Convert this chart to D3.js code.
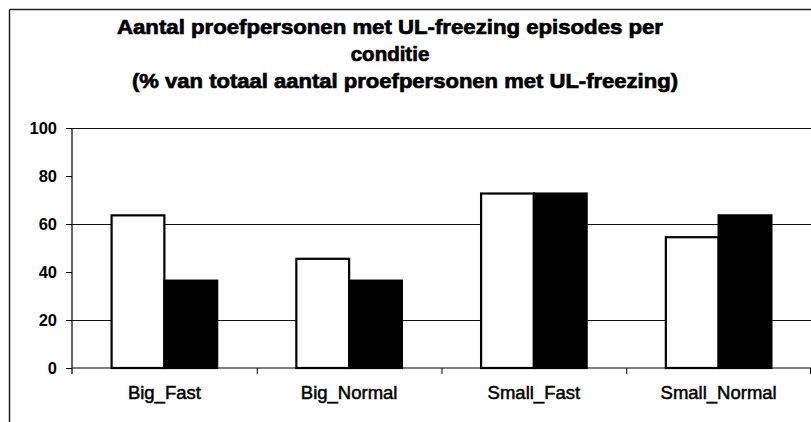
<!DOCTYPE html>
<html>
<head>
<meta charset="utf-8">
<script src="https://cdn.jsdelivr.net/npm/d3@7"></script>
<style>
  html, body { margin: 0; padding: 0; background: #fff; }
  svg { display: block; font-family: "Liberation Sans", Arial, sans-serif; }
</style>
</head>
<body>
<svg id="chart" width="811" height="422"></svg>
<script>
// Conditions on the x axis
const categories = ["Big_Fast", "Big_Normal", "Small_Fast", "Small_Normal"];
// Two series per condition: white bars and black bars (% of subjects)
const seriesNames = ["wit", "zwart"];
const whiteValues = [63.6, 45.5, 72.7, 54.5];
const blackValues = [36.4, 36.4, 72.7, 63.6];
const seriesColors = ["#ffffff", "#000000"];
// Y axis ticks and the horizontal grid lines that are drawn
const yTicks = [0, 20, 40, 60, 80, 100];
const gridValues = [20, 60, 100];
const titleLines = [
  "Aantal proefpersonen met UL-freezing episodes per",
  "conditie",
  "(% van totaal aantal proefpersonen met UL-freezing)"
];

const svg = d3.select("#chart");
const W = 811, H = 422;
const plot = { left: 72, right: 811, top: 128, bottom: 368 };

svg.append("rect").attr("width", W).attr("height", H).attr("fill", "#fff");

// Outer chart frame (top and left edges)
svg.append("line").attr("x1", 9.5).attr("x2", W).attr("y1", 9.5).attr("y2", 9.5)
  .attr("stroke", "#222").attr("stroke-width", 1.5);
svg.append("line").attr("x1", 9.5).attr("x2", 9.5).attr("y1", 9.5).attr("y2", H)
  .attr("stroke", "#222").attr("stroke-width", 1.5);

// Title
const titleSpec = [
  { x: 390, y: 34, len: 546 },
  { x: 390, y: 61, len: null },
  { x: 405, y: 88, len: 546 }
];
titleLines.forEach((t, i) => {
  const s = titleSpec[i];
  const el = svg.append("text")
    .attr("x", s.x).attr("y", s.y)
    .attr("text-anchor", "middle")
    .attr("font-size", 20.5).attr("font-weight", "bold")
    .attr("fill", "#000").attr("stroke", "#000").attr("stroke-width", 0.7)
    .text(t);
  if (s.len) el.attr("textLength", s.len).attr("lengthAdjust", "spacingAndGlyphs");
});

// Scales
const x0 = d3.scaleBand().domain(categories).range([plot.left, plot.right]).padding(0);
const x1 = d3.scaleBand().domain(seriesNames).range([0, x0.bandwidth()])
  .paddingInner(0).paddingOuter(0.75);
const y = d3.scaleLinear().domain([0, 100]).range([plot.bottom, plot.top]);

// Grid lines
svg.append("g").selectAll("line").data(gridValues).join("line")
  .attr("x1", plot.left).attr("x2", plot.right)
  .attr("y1", d => Math.round(y(d)) + 0.5).attr("y2", d => Math.round(y(d)) + 0.5)
  .attr("stroke", "#111").attr("stroke-width", 1);

// Bars
const rows = categories.map((c, i) => ({ cat: c, values: [whiteValues[i], blackValues[i]] }));
const groups = svg.append("g").selectAll("g").data(rows).join("g")
  .attr("transform", d => `translate(${x0(d.cat)},0)`);
groups.selectAll("rect").data(d => d.values.map((v, j) => ({ key: seriesNames[j], v, j })))
  .join("rect")
  .attr("x", d => x1(d.key))
  .attr("y", d => y(d.v))
  .attr("width", x1.bandwidth())
  .attr("height", d => y(0) - y(d.v))
  .attr("fill", d => seriesColors[d.j])
  .attr("stroke", "#000")
  .attr("stroke-width", 2.2);

// Y axis
const yAxis = svg.append("g")
  .attr("transform", `translate(${plot.left},0)`)
  .call(d3.axisLeft(y).tickValues(yTicks).tickSize(6).tickPadding(9).tickFormat(d3.format("d")));
yAxis.select(".domain").attr("stroke", "#000").attr("stroke-width", 1.2)
  .attr("d", `M0,${plot.top}V${plot.bottom + 6}`);
yAxis.selectAll(".tick line").attr("stroke", "#000");
yAxis.selectAll("text").attr("font-size", 16.5).attr("font-weight", "bold")
  .attr("font-family", "'Liberation Sans', Arial, sans-serif").attr("fill", "#000");

// X axis: baseline, boundary ticks and category labels
const xAxis = svg.append("g").attr("transform", `translate(0,${plot.bottom})`)
  .call(d3.axisBottom(x0).tickSize(0).tickPadding(18));
xAxis.select(".domain").attr("stroke", "#000").attr("stroke-width", 1.2)
  .attr("d", `M${plot.left},0H${plot.right}`);
xAxis.selectAll("text").attr("font-size", 18.5)
  .attr("font-family", "'Liberation Sans', Arial, sans-serif")
  .attr("fill", "#000").attr("stroke", "#000").attr("stroke-width", 0.5);
const bounds = categories.map(c => x0(c)).concat([x0(categories[categories.length - 1]) + x0.step()]);
xAxis.append("g").selectAll("line").data(bounds.slice(1)).join("line")
  .attr("x1", d => Math.min(d, W - 1) + 0.5).attr("x2", d => Math.min(d, W - 1) + 0.5)
  .attr("y1", 0).attr("y2", 6).attr("stroke", "#000");
</script>
</body>
</html>
